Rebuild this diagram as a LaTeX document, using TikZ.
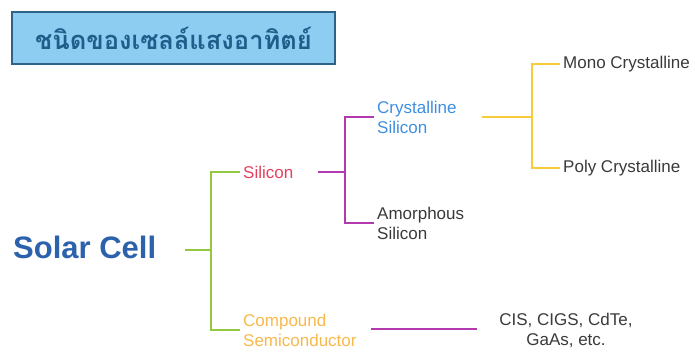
\documentclass[tikz,border=0pt]{standalone}
\usepackage{fontspec}
\setmainfont{Liberation Sans}
\newfontfamily\thaifont[Script=Thai]{Loma}
\definecolor{gl}{HTML}{94C840}
\definecolor{pl}{HTML}{B23AAE}
\definecolor{yl}{HTML}{F7CB3A}
\definecolor{redtxt}{HTML}{E5405E}
\definecolor{bluetxt}{HTML}{3E8FE0}
\definecolor{darktxt}{HTML}{3A3A3A}
\definecolor{orangetxt}{HTML}{F7B84E}
\definecolor{solarblue}{HTML}{2C62AC}
\definecolor{titlefill}{HTML}{8ECDF2}
\definecolor{titleborder}{HTML}{2E6386}
\definecolor{titletxt}{HTML}{1E5E8A}
\begin{document}
\begin{tikzpicture}[x=1pt,y=-1pt,
  lbl/.style={anchor=west,inner sep=3pt,align=left,font=\fontsize{17}{20}\selectfont},
  gline/.style={draw=gl,line width=2pt},
  pline/.style={draw=pl,line width=2.2pt},
  yline/.style={draw=yl,line width=2pt}]
\useasboundingbox (0,0) rectangle (695,351);
\node[draw=titleborder,line width=1.2pt,fill=titlefill,minimum width=323pt,minimum height=52pt,inner sep=0pt,
  font=\thaifont\bfseries\fontsize{25.5}{28}\selectfont,text=titletxt] (title) at (173.5,38) {ชนิดของเซลล์แสงอาทิตย์};
\node[anchor=west,inner sep=0pt,font=\bfseries\fontsize{31}{34}\selectfont,text=solarblue] (solar) at (13,247) {Solar Cell};
\node[lbl,text=redtxt] (silicon) at (240,172) {Silicon};
\node[lbl,text=orangetxt] (compound) at (240,330) {Compound\\Semiconductor};
\node[lbl,text=bluetxt] (cryst) at (374,117) {Crystalline\\Silicon};
\node[lbl,text=darktxt] (amor) at (374,223) {Amorphous\\Silicon};
\node[lbl,text=darktxt] (mono) at (560,64) {Mono Crystalline};
\node[lbl,text=darktxt] (poly) at (560,168) {Poly Crystalline};
\node[inner sep=0pt,align=center,font=\fontsize{17}{20}\selectfont,text=darktxt] (cis) at (566,330) {CIS, CIGS, CdTe,\\GaAs, etc.};
% green tree
\coordinate (g0) at (185,250);
\coordinate (gj) at (211,250);
\draw[gline] (g0) -- (gj);
\draw[gline] (silicon.west) -| (gj) |- (compound.west);
% purple tree
\coordinate (p0) at (318,172);
\coordinate (pj) at (345,172);
\draw[pline] (p0) -- (pj);
\draw[pline] (cryst.west) -| (pj) |- (amor.west);
% yellow tree
\coordinate (y0) at (482,117);
\coordinate (yj) at (532,117);
\draw[yline] (y0) -- (yj);
\draw[yline] (mono.west) -| (yj) |- (poly.west);
% compound link
\coordinate (c0) at (371,329);
\coordinate (c1) at (477,329);
\draw[pline] (c0) -- (c1);
\end{tikzpicture}
\end{document}
